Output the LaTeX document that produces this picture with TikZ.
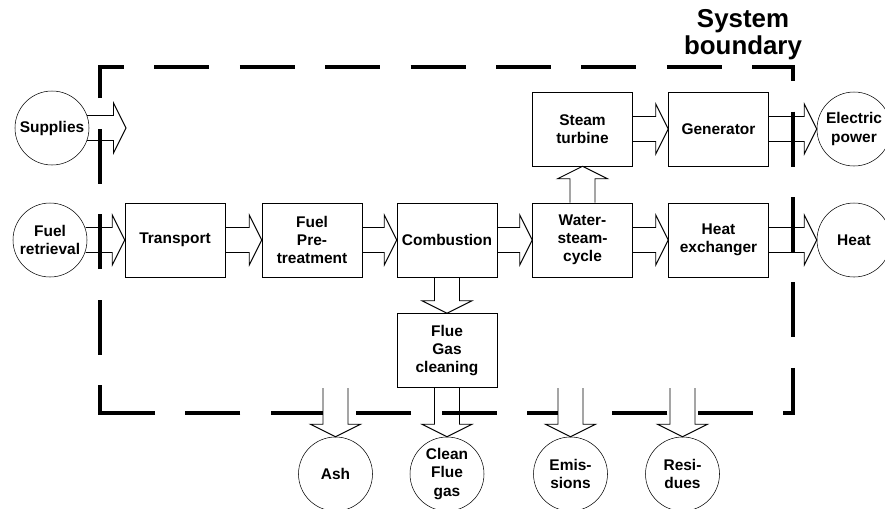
\documentclass[tikz,border=0pt]{standalone}
\usepackage{fontspec}
\setmainfont{Liberation Sans}
\usetikzlibrary{calc}
\tikzset{procbox/.style={draw,rectangle,minimum width=75pt,minimum height=55.5pt,inner sep=0,align=center},
    flowcirc/.style={draw,circle,minimum size=55.5pt,inner sep=0,align=center},
    flowline/.style={line width=0.7pt},
    boundline/.style={line width=2.4pt,dash pattern=on 41.25pt off 22.8pt}
}
\newcommand{\hollowright}[3][]
{
% args: [extra style] (tail point, tip point), wide open arrow pointing right
    \draw [flowline,#1] ($(#2)+(0,-12.5)$) -- ($(#3)+(-12.5,-12.5)$) -- ($(#3)+(-12.5,-25)$) -- (#3)
        -- ($(#3)+(-12.5,25)$) -- ($(#3)+(-12.5,12.5)$) -- ($(#2)+(0,12.5)$);
}
\newcommand{\hollowvert}[4][]
{
% args: [extra style] (tail point, tip point, 1 = down / -1 = up)
    \draw [flowline,#1] ($(#2)+(-12.5,0)$) -- ($(#3)+(-12.5,-12.5*#4)$) -- ($(#3)+(-25,-12.5*#4)$) -- (#3)
        -- ($(#3)+(25,-12.5*#4)$) -- ($(#3)+(12.5,-12.5*#4)$) -- ($(#2)+(12.5,0)$);
}
\begin{document}
\begin{tikzpicture}[x=0.75pt,y=-0.75pt,font=\fontsize{11.6pt}{13.7pt}\selectfont\bfseries]

\useasboundingbox (0,0) rectangle (885,508);

\node (title) at (743,35) [font=\fontsize{19.4pt}{20.3pt}\selectfont\bfseries,align=center,inner sep=0] {System\\boundary};

% inputs
\node (supplies) at (52,128) [flowcirc] {Supplies};
\node (fuelret) at (50,240) [flowcirc] {Fuel\\retrieval};
\coordinate (supin) at (126,128);

% process chain
\node (transport) at (175,240) [procbox] {Transport};
\node (pretreat) at (312,240) [procbox] {Fuel\\Pre-\\treatment};
\node (combust) at (447,240) [procbox] {Combustion};
\node (watercyc) at (582.5,240) [procbox] {Water-\\steam-\\cycle};
\node (heatex) at (718.5,240) [procbox] {Heat\\exchanger};
\node (turbine) at (582.5,129) [procbox] {Steam\\turbine};
\node (generator) at (718.5,129) [procbox] {Generator};
\node (fluegas) at (447,350.5) [procbox] {Flue\\Gas\\cleaning};

% outputs
\node (elpower) at (854,129) [flowcirc] {Electric\\power};
\node (heat) at (854,240) [flowcirc] {Heat};
\node (ash) at (335.5,474) [flowcirc] {Ash};
\node (cleangas) at (447,474) [flowcirc] {Clean\\Flue\\gas};
\node (emis) at (570.5,474) [flowcirc] {Emis-\\sions};
\node (resi) at (682.5,474) [flowcirc] {Resi-\\dues};
\coordinate (ashsrc) at (335.5,388);
\coordinate (emissrc) at (570.5,388);
\coordinate (resisrc) at (682.5,388);

\hollowright{[xshift=-1.6pt]supplies.east}{supin}
\hollowright{[xshift=-1.2pt]fuelret.east}{transport.west}
\hollowright{transport.east}{pretreat.west}
\hollowright{pretreat.east}{combust.west}
\hollowright{combust.east}{watercyc.west}
\hollowright{watercyc.east}{heatex.west}
\hollowright{turbine.east}{generator.west}
\hollowright{generator.east}{elpower.west}
\hollowright{heatex.east}{heat.west}

\hollowvert{watercyc.north}{turbine.south}{-1}
\hollowvert{combust.south}{fluegas.north}{1}
\hollowvert{fluegas.south}{cleangas.north}{1}
\hollowvert{resisrc}{resi.north}{1}

% system boundary
\draw [boundline] (100,98) -- (100,67) -- (793,67) -- (793,413) -- (100,413);
\draw [boundline,dash phase=19.1pt] (100,414.5) -- (100,128);

\hollowvert[fill=white]{ashsrc}{ash.north}{1}
\hollowvert[fill=white]{emissrc}{emis.north}{1}

\end{tikzpicture}
\end{document}
